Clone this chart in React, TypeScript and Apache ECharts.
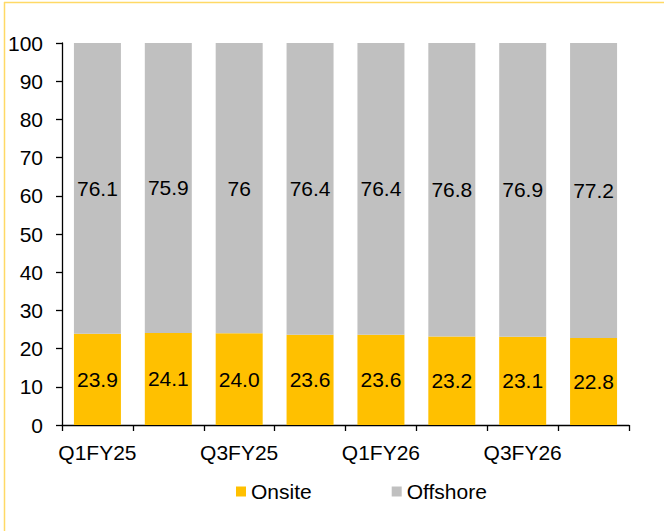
import React, { useEffect, useRef } from "react";
import * as echarts from "echarts";

const categories = ["Q1FY25", "Q2FY25", "Q3FY25", "Q4FY25", "Q1FY26", "Q2FY26", "Q3FY26", "Q4FY26"];
const onsite = [23.9, 24.1, 24.0, 23.6, 23.6, 23.2, 23.1, 22.8];
const offshore = [76.1, 75.9, 76, 76.4, 76.4, 76.8, 76.9, 77.2];
const yTicks = { min: 0, max: 100, interval: 10 };

export default function App() {
  const ref = useRef<HTMLDivElement>(null);
  useEffect(() => {
    if (!ref.current) return;
    const chart = echarts.init(ref.current, null, { renderer: "svg" });
    const font = "'Liberation Sans', Arial, sans-serif";
    const fs = 21;
    chart.setOption({
      animation: false,
      textStyle: { fontFamily: font },
      grid: { left: 62, right: 35, top: 43, bottom: 106, containLabel: false },
      legend: {
        bottom: 24,
        left: 231,
        itemWidth: 10,
        itemHeight: 10,
        itemGap: 80,
        icon: "rect",
        textStyle: { fontSize: fs, color: "#000", fontFamily: font, padding: [0, 0, 0, 0] },
        data: ["Onsite", "Offshore"],
      },
      xAxis: {
        type: "category",
        data: categories,
        axisLine: { lineStyle: { color: "#000", width: 1.3 } },
        axisTick: { show: true, interval: 0, length: 6, lineStyle: { color: "#000", width: 1.3 } },
        axisLabel: { interval: 1, fontSize: fs, color: "#000", margin: 17, fontFamily: font },
      },
      yAxis: {
        type: "value",
        min: yTicks.min,
        max: yTicks.max,
        interval: yTicks.interval,
        splitLine: { show: false },
        axisLine: { show: true, lineStyle: { color: "#000", width: 1.3 } },
        axisTick: { show: true, length: 6, lineStyle: { color: "#000", width: 1.3 } },
        axisLabel: { fontSize: fs, color: "#000", margin: 19, fontFamily: font },
      },
      series: [
        {
          name: "Onsite",
          type: "bar",
          stack: "total",
          data: onsite,
          barWidth: 47,
          itemStyle: { color: "#FFC000" },
          label: {
            show: true,
            position: "inside",
            fontSize: fs,
            color: "#000",
            fontFamily: font,
            formatter: (p: any) => Number(p.value).toFixed(1),
          },
        },
        {
          name: "Offshore",
          type: "bar",
          stack: "total",
          data: offshore,
          barWidth: 47,
          itemStyle: { color: "#C0C0C0" },
          label: {
            show: true,
            position: "inside",
            fontSize: fs,
            color: "#000",
            fontFamily: font,
            formatter: (p: any) => String(p.value),
          },
        },
      ],
      graphic: [
        { type: "line", shape: { x1: 4, y1: 2.5, x2: 664, y2: 2.5 }, style: { stroke: "#FFD966", lineWidth: 1.5 } },
        { type: "line", shape: { x1: 4.5, y1: 2, x2: 4.5, y2: 531 }, style: { stroke: "#FFD966", lineWidth: 1.5 } },
      ],
    });
    return () => chart.dispose();
  }, []);
  return <div ref={ref} style={{ width: 664, height: 531, position: "absolute", left: 0, top: 0 }} />;
}
